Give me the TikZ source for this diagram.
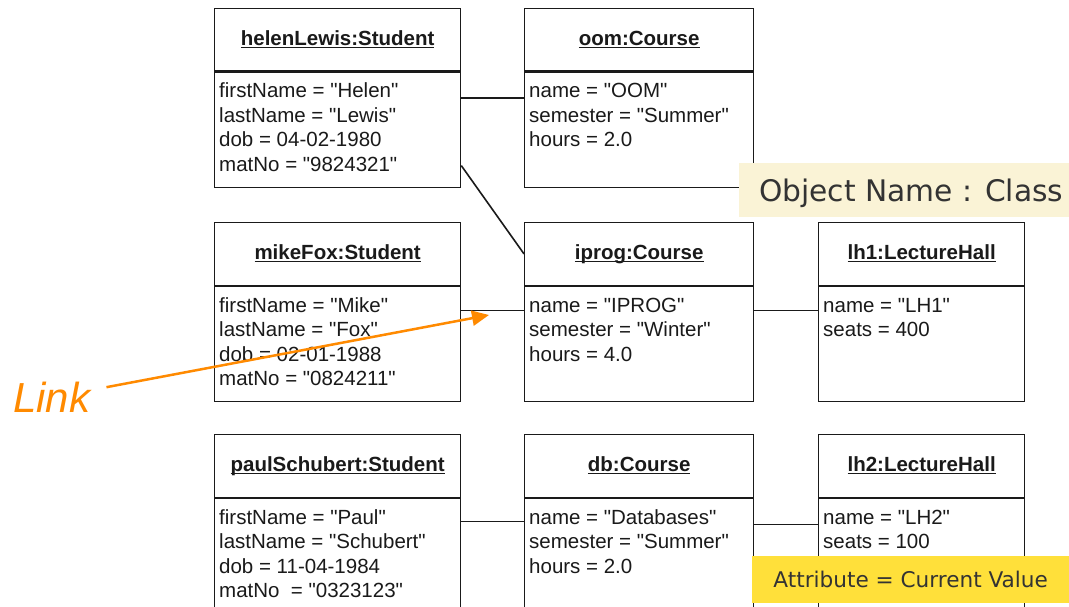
\documentclass[tikz,border=0pt]{standalone}
\usepackage{fontspec}
\setmainfont{Liberation Sans}[Ligatures=TeXOff]
\newfontfamily\notefont{DejaVu Sans}
\usetikzlibrary{arrows.meta}
\definecolor{ink}{HTML}{1A1A1A}
\definecolor{linkorange}{HTML}{FF8A00}
\definecolor{notecream}{HTML}{FAF3D6}
\definecolor{noteyellow}{HTML}{FFE03A}
\definecolor{notetext}{HTML}{333333}
% underlined object title, underline kept close to the baseline
\newcommand\objtitle[1]{\underline{\vphantom{A}\smash{#1}}}
% \objbox{name}{x}{y}{width}{body height}{title}{attribute lines}
\newcommand\objbox[7]{%
  \node[objhead, minimum width=#4pt] (#1H) at (#2,#3) {\objtitle{#6}};
  \node[objbody, minimum width=#4pt, minimum height=#5pt] (#1B) at (#1H.south west) {};
  \node[attrs] (#1A) at ([xshift=5pt,yshift=-8.85pt]#1B.north west) {\strut #7};
}
\begin{document}
\begin{tikzpicture}[x=1pt,y=-1pt,
  objhead/.style={draw=ink, line width=1.3pt, anchor=north west, minimum height=62.5pt,
    inner sep=0pt, font=\fontsize{20.5}{24.5}\selectfont\bfseries, text=ink},
  objbody/.style={draw=ink, line width=1.3pt, anchor=north west, inner sep=0pt},
  attrs/.style={anchor=north west, inner sep=0pt, align=left,
    font=\fontsize{20.5}{24.5}\selectfont, text=ink},
  assoc/.style={draw=ink, line width=1.6pt},
  note/.style={anchor=north west, inner ysep=0pt, text=notetext},
]
\useasboundingbox (0,0) rectangle (1069,607);
\clip (0,0) rectangle (1069,607);
\fill[white] (0,0) rectangle (1069,607);

% students
\objbox{helen}{214}{8}{246}{115}{helenLewis:Student}%
  {firstName = "Helen"\\lastName = "Lewis"\\dob = 04-02-1980\\matNo = "9824321"}
\objbox{mike}{214}{222}{246}{115}{mikeFox:Student}%
  {firstName = "Mike"\\lastName = "Fox"\\dob = 02-01-1988\\matNo = "0824211"}
\objbox{paul}{214}{434}{246}{200}{paulSchubert:Student}%
  {firstName = "Paul"\\lastName = "Schubert"\\dob = 11-04-1984\\matNo\ \ = "0323123"}

% courses
\objbox{oom}{524}{8}{229}{115}{oom:Course}%
  {name = "OOM"\\semester = "Summer"\\hours = 2.0}
\objbox{iprog}{524}{222}{229}{115}{iprog:Course}%
  {name = "IPROG"\\semester = "Winter"\\hours = 4.0}
\objbox{db}{524}{434}{229}{200}{db:Course}%
  {name = "Databases"\\semester = "Summer"\\hours = 2.0}

% lecture halls
\objbox{lhone}{818}{222}{206}{115}{lh1:LectureHall}%
  {name = "LH1"\\seats = 400}
\objbox{lhtwo}{818}{434}{206}{200}{lh2:LectureHall}%
  {name = "LH2"\\seats = 100}

% links between objects
\draw[assoc] ([yshift=-26.5pt]helenB.north east) -- ([yshift=-26.5pt]oomB.north west);
\draw[assoc] ([yshift=22.5pt]helenB.south east) -- (iprogH.west);
\draw[assoc] ([yshift=-24.5pt]mikeB.north east) -- ([yshift=-24.5pt]iprogB.north west);
\draw[assoc] ([yshift=-24.5pt]iprogB.north east) -- ([yshift=-24.5pt]lhoneB.north west);
\draw[assoc] ([yshift=-23.5pt]paulB.north east) -- ([yshift=-23.5pt]dbB.north west);
\draw[assoc] ([yshift=-26.5pt]dbB.north east) -- ([yshift=-26.5pt]lhtwoB.north west);

% explanatory notes
\node[note, fill=notecream, minimum height=54pt, minimum width=330pt, inner xsep=20pt,
  font=\notefont\fontsize{29.7}{34}\selectfont, text height=22pt, text depth=0pt]
  (objnote) at (739,163) {Object Name : Class};
\node[note, fill=noteyellow, minimum height=47pt, minimum width=317pt, inner xsep=21pt,
  font=\notefont\fontsize{21.6}{25}\selectfont, text height=15.5pt, text depth=0pt]
  (attrnote) at (752,556) {Attribute = Current Value};

% link annotation
\node[font=\itshape\fontsize{42}{48}\selectfont, text=linkorange, anchor=base west,
  inner sep=0pt] (linklabel) at (13,412) {Link};
\coordinate (linktip) at (489,315);
\draw[linkorange, line width=2.5pt, -{Triangle[length=17pt,width=15pt]}]
  ([xshift=16pt,yshift=9.6pt]linklabel.east) -- (linktip);
\end{tikzpicture}
\end{document}
